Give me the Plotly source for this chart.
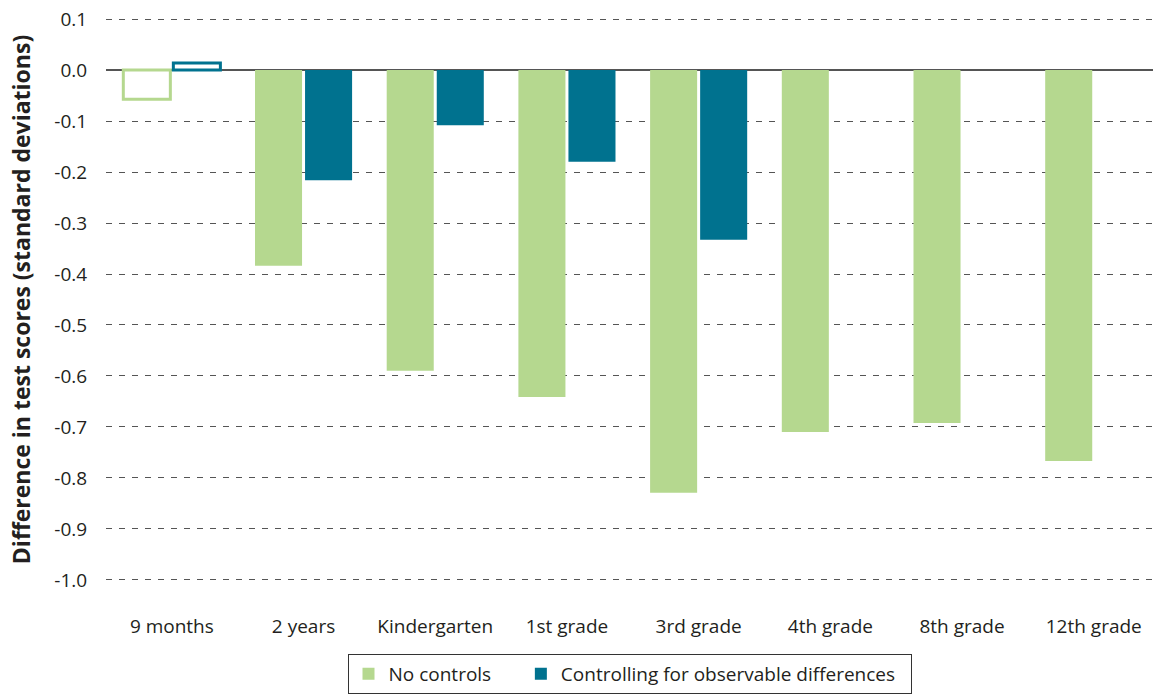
import plotly.graph_objects as go

categories = ["9 months", "2 years", "Kindergarten", "1st grade", "3rd grade",
              "4th grade", "8th grade", "12th grade"]
no_controls = [None, -0.384, -0.590, -0.641, -0.829, -0.710, -0.692, -0.767]
controlling = [None, -0.216, -0.108, -0.180, -0.333, None, None, None]
# 9 months values drawn as hollow outlines
hollow_categories = ["9 months"]
hollow_no_controls = [-0.057]
hollow_controlling = [0.014]

tick_vals = [0.1, 0.0, -0.1, -0.2, -0.3, -0.4, -0.5, -0.6, -0.7, -0.8, -0.9, -1.0]
tick_text = ["0.1", "0.0", "-0.1", "-0.2", "-0.3", "-0.4", "-0.5", "-0.6", "-0.7",
             "-0.8", "-0.9", "-1.0"]

GREEN = "#b5d88f"
BLUE = "#00728f"
FONT = "Open Sans"
NBSP = "\u00a0"

fig = go.Figure()
fig.add_trace(go.Bar(x=categories, y=no_controls, name="No controls" + NBSP * 5,
                     marker=dict(color=GREEN, line=dict(width=0)), offsetgroup="g"))
fig.add_trace(go.Bar(x=categories, y=controlling, name="Controlling for observable differences" + NBSP * 2,
                     marker=dict(color=BLUE, line=dict(width=0)), offsetgroup="b"))
fig.add_trace(go.Bar(x=hollow_categories, y=hollow_no_controls, showlegend=False,
                     marker=dict(color="rgba(255,255,255,0)", line=dict(color=GREEN, width=3)),
                     offsetgroup="g"))
fig.add_trace(go.Bar(x=hollow_categories, y=hollow_controlling, showlegend=False,
                     marker=dict(color="rgba(255,255,255,0)", line=dict(color=BLUE, width=3)),
                     offsetgroup="b"))

fig.update_layout(
    width=1153, height=695,
    margin=dict(l=106, r=0, t=14, b=110),
    paper_bgcolor="white", plot_bgcolor="white",
    barmode="group", bargap=0.24, bargroupgap=0.06,
    font=dict(family=FONT, size=19, color="#231f20"),
    showlegend=True,
    legend=dict(orientation="h", x=0.5, xanchor="center",
                yref="container", y=1 - 654 / 695, yanchor="top",
                bordercolor="#333333", borderwidth=1,
                font=dict(family=FONT, size=19, color="#231f20"),
                itemclick=False),
    xaxis=dict(categoryorder="array", categoryarray=categories, automargin=False,
               range=[-0.5, 7.45], showgrid=False, showline=False,
               ticks="outside", ticklen=24, tickcolor="rgba(0,0,0,0)",
               tickfont=dict(family=FONT, size=19)),
    yaxis=dict(range=[-1.01, 0.11], tickvals=tick_vals, ticktext=tick_text,
               automargin=False,
               showgrid=True, gridcolor="#555555", griddash="6px,7px", gridwidth=1,
               zeroline=True, zerolinecolor="#555555", zerolinewidth=2,
               ticks="outside", ticklen=14, tickcolor="rgba(0,0,0,0)",
               tickfont=dict(family=FONT, size=19),
               title=dict(text="<b>Difference in test scores (standard deviations)</b>",
                          font=dict(family=FONT, size=23), standoff=17)),
)

fig.write_html("out.html", config={"displayModeBar": False},
               post_script="document.body.style.margin='0';document.body.style.overflow='hidden';")
